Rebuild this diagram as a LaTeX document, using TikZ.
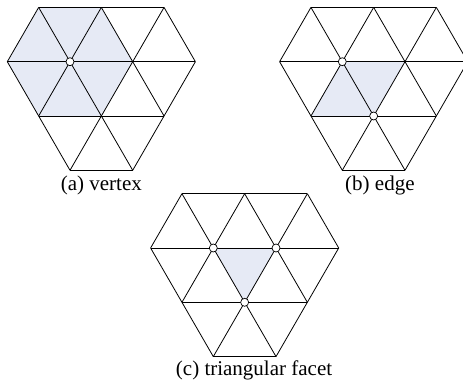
\documentclass[tikz,border=0pt]{standalone}
\usepackage{fontspec}
\setmainfont{Liberation Serif}
\usepackage{xcolor}
\usepackage{tikz}

\definecolor{facefill}{RGB}{230,234,245}

\begin{document}
\begin{tikzpicture}[x=62.7pt, y=54.3pt,
  meshline/.style={line width=0.8pt, line join=round},
  shade/.style={fill=facefill},
  vtx/.style={circle, draw, fill=white, inner sep=0pt, minimum size=8pt, line width=0.7pt},
  caption/.style={font=\fontsize{21}{24}\selectfont},
  mesh/.pic={
    \draw[meshline] (0.5,1) -- (2.5,1) (0,0) -- (3,0) (0.5,-1) -- (2.5,-1) (1,-2) -- (2,-2);
    \draw[meshline] (0,0) -- (0.5,1) (0.5,-1) -- (1.5,1) (1,-2) -- (2.5,1) (2,-2) -- (3,0);
    \draw[meshline] (0.5,1) -- (2,-2) (1.5,1) -- (2.5,-1) (2.5,1) -- (3,0) (0,0) -- (1,-2);
  }
]
\useasboundingbox (0pt,0pt) rectangle (463pt,383pt);

% (a) one vertex and its ring
\begin{scope}[shift={(7.3pt,321.3pt)}]
  \fill[shade] (0.5,1) -- (1.5,1) -- (2,0) -- (1.5,-1) -- (0.5,-1) -- (0,0) -- cycle;
  \pic {mesh};
  \node[vtx] (av) at (1,0) {};
  \node[caption] (acap) at (1.5,-2.28) {(a) vertex};
\end{scope}

% (b) one edge
\begin{scope}[shift={(279.6pt,321.3pt)}]
  \fill[shade] (1,0) -- (2,0) -- (1.5,-1) -- (0.5,-1) -- cycle;
  \pic {mesh};
  \node[vtx] (bu) at (1,0) {};
  \node[vtx] (bw) at (1.5,-1) {};
  \node[caption] (bcap) at (1.6,-2.28) {(b) edge};
\end{scope}

% (c) one facet
\begin{scope}[shift={(150.6pt,135pt)}]
  \fill[shade] (1,0) -- (2,0) -- (1.5,-1) -- cycle;
  \pic {mesh};
  \node[vtx] (cu) at (1,0) {};
  \node[vtx] (cv) at (2,0) {};
  \node[vtx] (cw) at (1.5,-1) {};
  \node[caption] (ccap) at (1.65,-2.26) {(c) triangular facet};
\end{scope}
\end{tikzpicture}
\end{document}
